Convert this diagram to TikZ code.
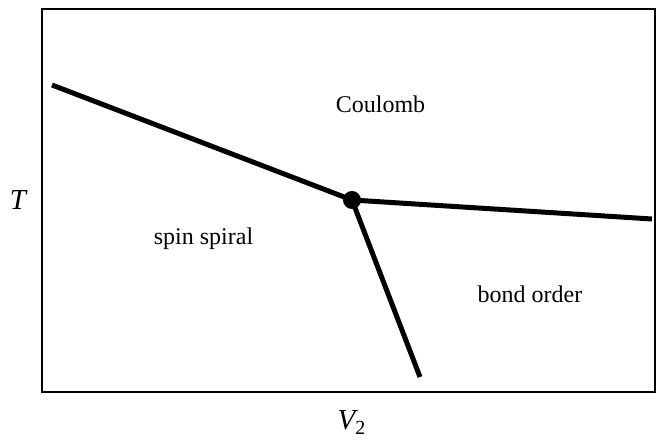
\documentclass[tikz,border=0pt]{standalone}
\usepackage{fontspec}
\setmainfont{Liberation Serif}
\begin{document}
\begin{tikzpicture}[x=1pt,y=1pt,
  lbl/.style={font=\fontsize{24}{28}\selectfont, inner sep=0pt, anchor=base},
  axl/.style={font=\fontsize{29}{34}\selectfont\itshape, inner sep=0pt},
  bnd/.style={line width=5pt},
  frm/.style={line width=1.2pt}]
\useasboundingbox (0,0) rectangle (658,441);
\draw[frm] (42,49) rectangle (655,432);
\coordinate (a) at (52,356);
\coordinate (j) at (352,241);
\coordinate (r) at (652,222);
\coordinate (b) at (420,64);
\draw[bnd] (a) -- (j);
\draw[bnd] (j) -- (r);
\draw[bnd] (j) -- (b);
\node[circle, fill=black, minimum size=18pt, inner sep=0pt] (dot) at (j) {};
\node[lbl] (coul) at (380.5,328) {Coulomb};
\node[lbl] (spin) at (203.5,196) {spin spiral};
\node[lbl] (bond) at (530,138) {bond order};
\node[axl] (T) at (18,241) {T};
\node[axl, anchor=base] (V) at (351.5,11) {V\raisebox{-5pt}{\fontsize{20}{24}\selectfont\upshape 2}};
\end{tikzpicture}
\end{document}
